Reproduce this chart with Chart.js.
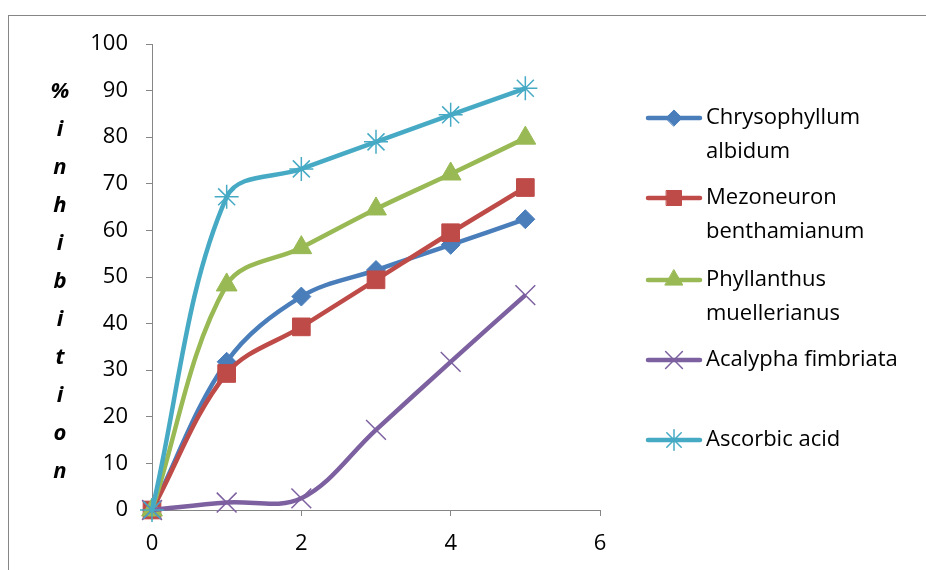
<!DOCTYPE html>
<html>
<head>
<meta charset="utf-8">
<script src="https://cdn.jsdelivr.net/npm/chart.js@4/dist/chart.umd.min.js"></script>
<style>
  html, body { margin: 0; padding: 0; background: #fff; }
  #wrap { position: relative; width: 926px; height: 570px; }
</style>
</head>
<body>
<div id="wrap"><canvas id="chart"></canvas></div>
<script>
// Data
const xValues = [0, 1, 2, 3, 4, 5];
const seriesNames = [
    ['Chrysophyllum', 'albidum'],
    ['Mezoneuron', 'benthamianum'],
    ['Phyllanthus', 'muellerianus'],
    ['Acalypha fimbriata'],
    ['Ascorbic acid']
];
const chrysophyllum = [0, 31.8, 45.8, 51.5, 56.9, 62.4];
const mezoneuron    = [0, 29.3, 39.3, 49.4, 59.5, 69.2];
const phyllanthus   = [0, 48.3, 56.3, 64.6, 72.1, 79.8];
const acalypha      = [0, 1.6, 2.5, 17.2, 31.8, 46.1];
const ascorbic      = [0, 67.2, 73.2, 79.0, 84.8, 90.5];
const yTitle = '%inhibition';

const FONT = 'Open Sans';
const AXIS_GREY = '#868686';

// series styles
const colors = ['#4a7ebb', '#be4b48', '#98b954', '#7d60a0', '#46aac5'];
const markers = ['rectRot', 'rect', 'triangle', 'crossRot', 'star'];
const markerRadius = [9.5, 12.5, 12, 14, 12];
const markerBorder = [1, 1, 1, 1.5, 1.5];
const allValues = [chrysophyllum, mezoneuron, phyllanthus, acalypha, ascorbic];

const datasets = allValues.map((vals, i) => ({
    label: seriesNames[i].join(' '),
    data: vals.map((v, k) => ({ x: xValues[k], y: v })),
    borderColor: colors[i],
    backgroundColor: colors[i],
    borderWidth: 4.5,
    tension: 0.35,
    clip: false,
    pointStyle: markers[i],
    pointRadius: markerRadius[i],
    pointBorderWidth: markerBorder[i],
    pointBackgroundColor: colors[i],
    pointBorderColor: colors[i],
    order: 5 - i
}));

// Outer frame, stacked y title and right-hand legend
const decorPlugin = {
    id: 'decor',
    beforeDraw(chart) {
        const ctx = chart.ctx;
        ctx.save();
        ctx.strokeStyle = AXIS_GREY;
        ctx.lineWidth = 1;
        ctx.strokeRect(8.5, 15.5, 940, 600);
        ctx.restore();
    },
    afterDraw(chart) {
        const ctx = chart.ctx;
        ctx.save();
        // vertical title, one letter per line
        ctx.fillStyle = '#000';
        ctx.font = 'italic bold 22px "' + FONT + '"';
        ctx.textAlign = 'center';
        ctx.textBaseline = 'middle';
        const chars = yTitle.split('');
        chars.forEach((c, i) => ctx.fillText(c, 60, 92 + i * 38));

        // legend
        const legendY = [118, 198, 280, 360, 440];
        ctx.font = '22px "' + FONT + '"';
        ctx.textAlign = 'left';
        seriesNames.forEach((lines, i) => {
            const y = legendY[i];
            ctx.strokeStyle = colors[i];
            ctx.fillStyle = colors[i];
            ctx.lineWidth = 4.5;
            ctx.lineCap = 'round';
            ctx.beginPath();
            ctx.moveTo(648, y);
            ctx.lineTo(700, y);
            ctx.stroke();
            ctx.lineWidth = markerBorder[i];
            Chart.helpers.drawPoint(ctx, {
                pointStyle: markers[i],
                radius: markerRadius[i] * 0.85,
                rotation: 0,
                borderWidth: markerBorder[i]
            }, 674, y);
            ctx.fillStyle = '#000';
            lines.forEach((t, k) => ctx.fillText(t, 706, y + k * 34));
        });
        ctx.restore();
    }
};

new Chart(document.getElementById('chart'), {
    type: 'line',
    data: { datasets },
    plugins: [decorPlugin],
    options: {
        responsive: true,
        maintainAspectRatio: false,
        animation: false,
        layout: { padding: { left: 0, right: 326, top: 44, bottom: 0 } },
        plugins: {
            legend: { display: false },
            tooltip: { enabled: false }
        },
        scales: {
            x: {
                type: 'linear',
                min: 0,
                max: 6,
                ticks: { stepSize: 2, color: '#000', padding: 15, font: { family: FONT, size: 22 } },
                grid: { drawOnChartArea: false, drawTicks: true, tickLength: 6, color: AXIS_GREY },
                border: { color: AXIS_GREY, width: 1 },
                afterFit: s => { s.height = 60; }
            },
            y: {
                min: 0,
                max: 100,
                ticks: { stepSize: 10, color: '#000', padding: 18, font: { family: FONT, size: 22 } },
                grid: { drawOnChartArea: false, drawTicks: true, tickLength: 6, color: AXIS_GREY },
                border: { color: AXIS_GREY, width: 1 },
                afterFit: s => { s.width = 152; }
            }
        }
    }
});
</script>
</body>
</html>
